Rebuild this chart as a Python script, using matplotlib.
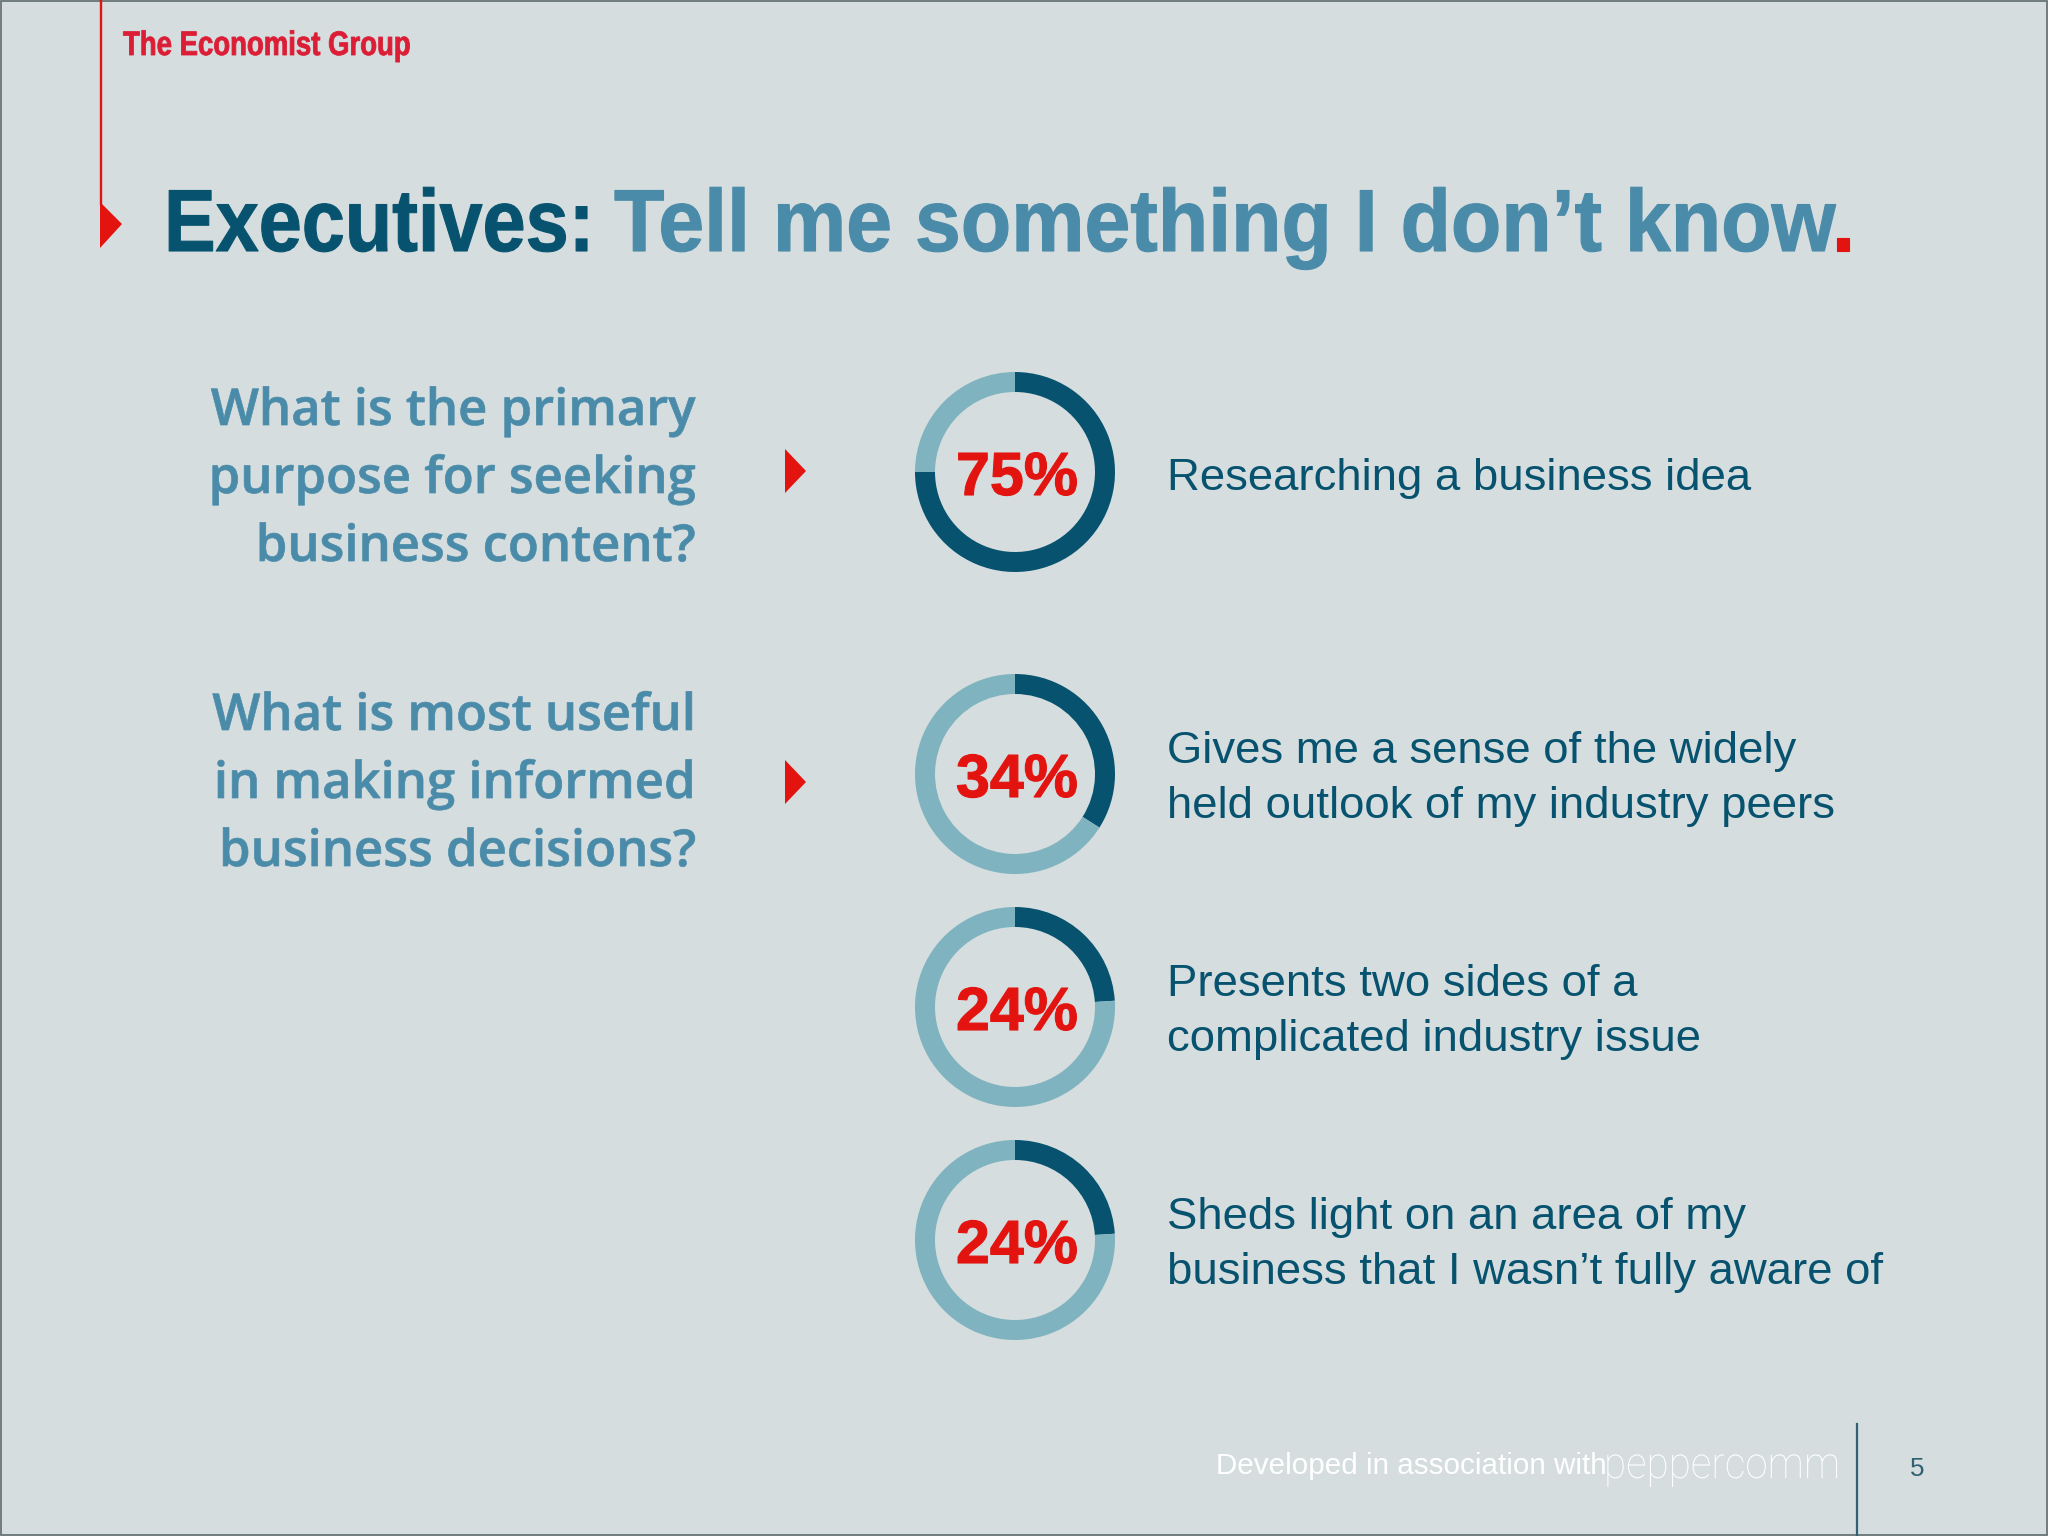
import matplotlib
matplotlib.use('Agg')
import matplotlib.pyplot as plt
from matplotlib.patches import Polygon, Rectangle
from matplotlib.patheffects import AbstractPathEffect
from matplotlib.transforms import Affine2D, Bbox

# data
ring_values = [75, 34, 24, 24]
ring_labels = ['75%', '34%', '24%', '24%']
answers = [
    ['Researching a business idea'],
    ['Gives me a sense of the widely', 'held outlook of my industry peers'],
    ['Presents two sides of a', 'complicated industry issue'],
    ['Sheds light on an area of my', 'business that I wasn\u2019t fully aware of'],
]
questions = [
    ['What is the primary', 'purpose for seeking', 'business content?'],
    ['What is most useful', 'in making informed', 'business decisions?'],
]
title_parts = ['Executives:', 'Tell me something I don\u2019t know', '.']

# colours
BG = '#D5DDDE'
DARK = '#07536F'
MID = '#4A8BA9'
LIGHT = '#7EB3BF'
RED = '#E3130F'

W, H = 2048, 1536
px = 0.72  # pixel -> point at dpi 100
ARIAL = ['Liberation Sans']


# no condensed font installed, so squeeze the glyphs sideways when drawing
class Squeeze(AbstractPathEffect):
    def __init__(self, sx=1.0, lw=0.0):
        super().__init__()
        self.sx = sx
        self.lw = lw

    def draw_path(self, renderer, gc, tpath, affine, rgbFace=None):
        gc0 = renderer.new_gc()
        gc0.copy_properties(gc)
        gc0.set_linewidth(self.lw)
        if self.lw:
            gc0.set_foreground(rgbFace, isRGBA=len(rgbFace) == 4)
        renderer.draw_path(gc0, tpath, Affine2D().scale(self.sx, 1) + affine, rgbFace)
        gc0.restore()


fig = plt.figure(figsize=(W / 100, H / 100), dpi=100, facecolor=BG)
ax = fig.add_axes([0, 0, 1, 1])
ax.set_xlim(0, W)
ax.set_ylim(H, 0)
ax.axis('off')


def narrow_text(x, y, s, sx, lw=0.0, **kw):
    t = ax.text(x, y, s, va='baseline', path_effects=[Squeeze(sx, lw)], **kw)
    full = t.get_window_extent

    # report the squeezed width, not the one the font would have
    def extent(renderer=None, dpi=None):
        b = full(renderer, dpi)
        return Bbox.from_extents(b.x0, b.y0, b.x0 + b.width * sx, b.y1)

    t.get_window_extent = extent
    return t


# frame
ax.add_patch(Rectangle((1, 1), W - 2, H - 2, fill=False, ec='#5F6B6E', lw=1.2))

# red rule and arrows
ax.plot([101, 101], [0, 205], color=RED, lw=1.7, solid_capstyle='butt')
ax.add_patch(Polygon([(100, 202), (122, 224), (100, 248)], fc=RED, ec='none'))
for yc in (471, 782):
    ax.add_patch(Polygon([(785, yc - 22), (806, yc), (785, yc + 22)], fc=RED, ec='none'))

narrow_text(123, 55, 'The Economist Group', 0.81, 0.6, color='#DB1E36',
            fontsize=34 * px, family=ARIAL, weight='bold')

# title pieces
title_x = [164, 614, 1832]
title_sx = [0.88, 0.937, 0.9]
for part, col, x, sx in zip(title_parts, [DARK, MID, RED], title_x, title_sx):
    narrow_text(x, 251, part, sx, 0.8, color=col, fontsize=88 * px, family=ARIAL,
                weight='bold')

# questions
for lines, ys in zip(questions, ([425, 493, 561], [730, 798, 866])):
    for line, y in zip(lines, ys):
        ax.text(695, y, line, color=MID, fontsize=50.8 * px, family='Open Sans',
                weight='semibold', ha='right', va='baseline',
                path_effects=[Squeeze(1.0, 0.5)])

# rings
ring_y = [472, 774, 1007, 1240]
ring_x = 1015
R = 100
for val, lab, yc in zip(ring_values, ring_labels, ring_y):
    a = fig.add_axes([(ring_x - R) / W, 1 - (yc + R) / H, 2 * R / W, 2 * R / H])
    a.pie([val, 100 - val], colors=[DARK, LIGHT], startangle=90, counterclock=False,
          radius=1, wedgeprops={'width': 0.2, 'linewidth': 0})
    a.set_xlim(-1, 1)
    a.set_ylim(-1, 1)
    a.axis('off')
    ax.text(ring_x + 2, yc + 23, lab, color=RED, fontsize=61 * px, family=ARIAL,
            weight='bold', ha='center', va='baseline', zorder=5,
            path_effects=[Squeeze(1.0, 0.8)])

# answers
answer_ys = [[490], [763, 818], [996, 1051], [1229, 1284]]
for lines, ys in zip(answers, answer_ys):
    for line, y in zip(lines, ys):
        ax.text(1167, y, line, color=DARK, fontsize=45.5 * px, family=ARIAL, va='baseline')

# footer
ax.text(1216, 1474, 'Developed in association with', color='white', fontsize=29.6 * px,
        family=ARIAL, va='baseline')
narrow_text(1604, 1478, 'peppercomm', 0.92, color='white', fontsize=44 * px,
            family='Roboto', weight='light')
ax.plot([1857, 1857], [1424, 1536], color='#2F6272', lw=1.6)
ax.text(1917, 1476, '5', color='#2F6272', fontsize=26 * px, family=ARIAL,
        ha='center', va='baseline')

fig.savefig('out.png', dpi=100, facecolor=BG)
